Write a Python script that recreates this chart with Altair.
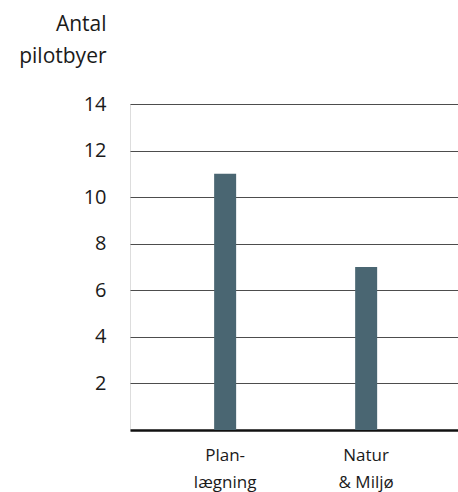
import altair as alt
import pandas as pd

# Number of pilot towns per theme
categories = ["Plan-|lægning", "Natur|& Miljø"]
counts = [11, 7]
tick_values = [2, 4, 6, 8, 10, 12, 14]

df = pd.DataFrame({"tema": categories, "antal": counts})

FONT = "Open Sans"

chart = (
    alt.Chart(df)
    .mark_bar(color="#4a6672")
    .encode(
        x=alt.X(
            "tema:N",
            sort=categories,
            scale=alt.Scale(paddingInner=0.844, paddingOuter=0.585, align=0.51),
            axis=alt.Axis(
                title=None,
                labelExpr="split(datum.label, '|')",
                labelAngle=0,
                labelFont=FONT,
                labelFontSize=17,
                labelColor="#1a1a1a",
                labelLineHeight=27,
                labelPadding=17,
                ticks=False,
                domainColor="#111111",
                domainWidth=2.5,
            ),
        ),
        y=alt.Y(
            "antal:Q",
            scale=alt.Scale(domain=[0, 14], nice=False),
            axis=alt.Axis(
                values=tick_values,
                title=["Antal", "pilotbyer"],
                titleAngle=0,
                titleAlign="right",
                titleBaseline="alphabetic",
                titleX=-24,
                titleY=-74,
                titleFont=FONT,
                titleFontSize=21,
                titleFontWeight="normal",
                titleColor="#1a1a1a",
                titleLineHeight=32,
                labelFont=FONT,
                labelFontSize=20,
                labelColor="#1a1a1a",
                labelPadding=24,
                ticks=False,
                domain=False,
                grid=True,
                gridColor="#4d4d4d",
                gridWidth=1.2,
            ),
        ),
    )
    .properties(
        width=328,
        height=326,
        padding={"left": 130, "top": 104, "right": 0, "bottom": 62},
        autosize=alt.AutoSizeParams(type="none"),
    )
    .configure_view(stroke=None)
    .configure(background="white")
)

chart.save("out.html", embed_options={"renderer": "svg", "actions": False})
